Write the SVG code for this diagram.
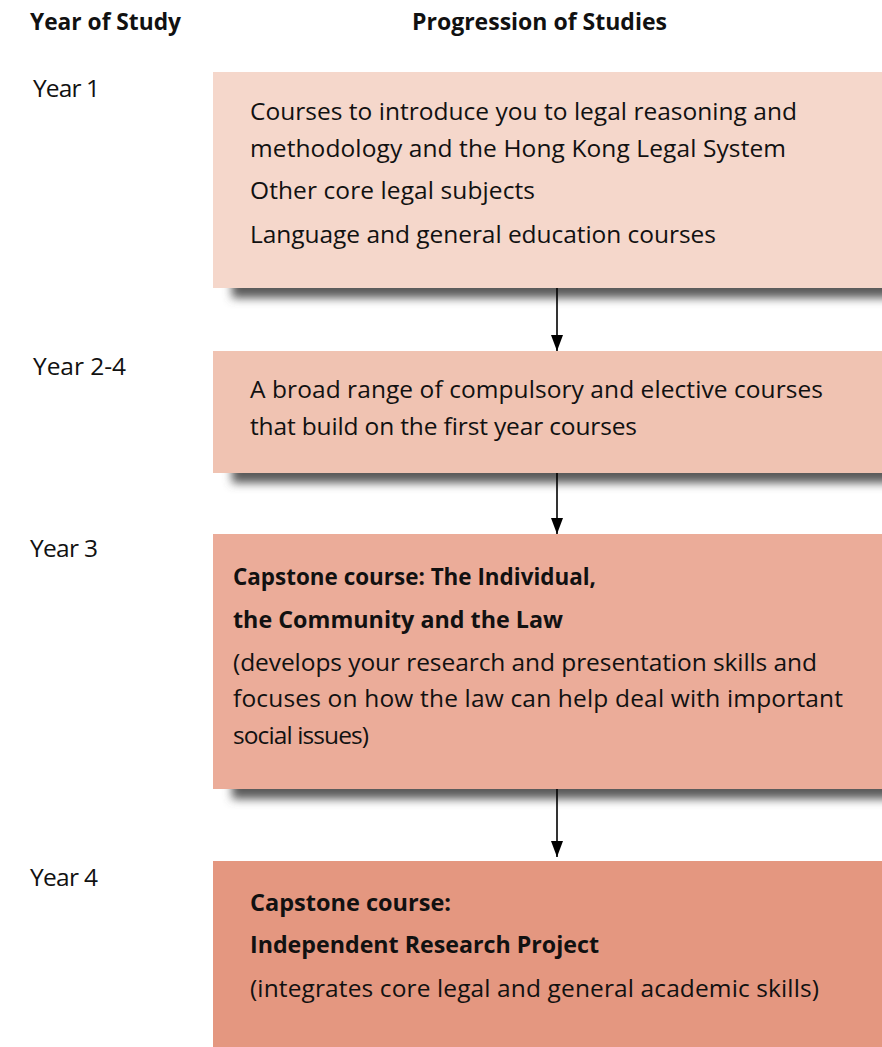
<svg xmlns="http://www.w3.org/2000/svg" width="882" height="1047" viewBox="0 0 882 1047">
<style>
.t{font-family:"Open Sans","Liberation Sans",sans-serif;font-size:24.5px;fill:#111}
.b{font-weight:bold;font-size:23px}
.h{font-family:"Open Sans","Liberation Sans",sans-serif;font-size:23px;font-weight:bold;fill:#111}
.c{stroke:#000;stroke-width:1.6;fill:none}
</style>
<defs>
<filter id="sh" x="-10%" y="-60%" width="120%" height="220%"><feGaussianBlur stdDeviation="5"/></filter>
<marker id="ah" viewBox="0 0 16 12" refX="16" refY="6" markerWidth="16" markerHeight="12" markerUnits="userSpaceOnUse" orient="auto"><path d="M0,0 L16,6 L0,12 z" fill="#000"/></marker>
</defs>
<rect width="882" height="1047" fill="#fff"/>
<text class="h" x="30" y="30" textLength="151" lengthAdjust="spacingAndGlyphs">Year of Study</text>
<text class="h" x="412" y="30" textLength="255" lengthAdjust="spacingAndGlyphs">Progression of Studies</text>

<g id="n1">
<rect x="232" y="276" width="670" height="22" fill="#5a5a5a" filter="url(#sh)"/>
<rect x="213" y="72" width="669" height="216" fill="#F5D7CB"/>
<text class="t" x="33" y="97" textLength="67">Year 1</text>
<text class="t" x="250" y="120" textLength="547">Courses to introduce you to legal reasoning and</text>
<text class="t" x="250" y="157" textLength="536">methodology and the Hong Kong Legal System</text>
<text class="t" x="250" y="199" textLength="285">Other core legal subjects</text>
<text class="t" x="250" y="243" textLength="466">Language and general education courses</text>
</g>

<g id="n2">
<rect x="232" y="461" width="670" height="22" fill="#5a5a5a" filter="url(#sh)"/>
<rect x="213" y="351" width="669" height="122" fill="#F0C3B2"/>
<text class="t" x="33" y="375" textLength="93">Year 2-4</text>
<text class="t" x="250" y="398" textLength="573">A broad range of compulsory and elective courses</text>
<text class="t" x="250" y="435" textLength="387">that build on the first year courses</text>
</g>

<g id="n3">
<rect x="232" y="777" width="670" height="22" fill="#5a5a5a" filter="url(#sh)"/>
<rect x="213" y="534" width="669" height="255" fill="#EBAC99"/>
<text class="t" x="30" y="557" textLength="68">Year 3</text>
<text class="t b" x="233" y="585" textLength="363" lengthAdjust="spacingAndGlyphs">Capstone course: The Individual,</text>
<text class="t b" x="233" y="628" textLength="330" lengthAdjust="spacingAndGlyphs">the Community and the Law</text>
<text class="t" x="233" y="671" textLength="584">(develops your research and presentation skills and</text>
<text class="t" x="233" y="707" textLength="610">focuses on how the law can help deal with important</text>
<text class="t" x="233" y="744" textLength="136">social issues)</text>
</g>

<g id="n4">
<rect x="213" y="861" width="669" height="186" fill="#E49780"/>
<text class="t" x="30" y="886" textLength="68">Year 4</text>
<text class="t b" x="250" y="911" textLength="201" lengthAdjust="spacingAndGlyphs">Capstone course:</text>
<text class="t b" x="250" y="953" textLength="349" lengthAdjust="spacingAndGlyphs">Independent Research Project</text>
<text class="t" x="250" y="997" textLength="569">(integrates core legal and general academic skills)</text>
</g>

<g id="connectors">
<line class="c" x1="557" y1="288" x2="557" y2="351" marker-end="url(#ah)"/>
<line class="c" x1="557" y1="473" x2="557" y2="534" marker-end="url(#ah)"/>
<line class="c" x1="557" y1="789" x2="557" y2="857" marker-end="url(#ah)"/>
</g>
</svg>
